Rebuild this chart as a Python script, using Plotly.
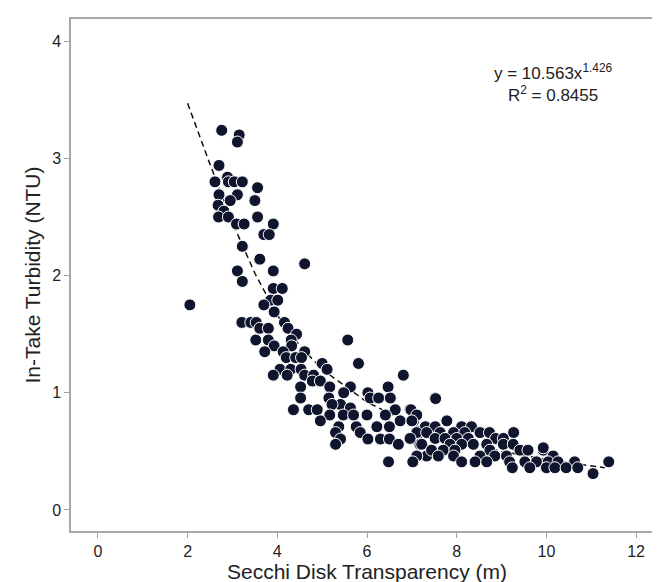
import plotly.graph_objects as go

# Observed points: Secchi disk transparency (m) and in-take turbidity (NTU)
secchi = [
    2.76, 3.15, 3.11, 2.70, 2.61, 2.89, 2.91, 3.04, 3.22, 3.56, 2.70, 3.11, 2.95, 3.50,
    2.68, 2.81, 2.69, 2.91, 3.56, 3.09, 3.26, 3.91, 3.70, 3.82, 3.22, 3.61, 4.61, 3.11,
    3.91, 3.22, 3.91, 4.11, 3.85, 4.01, 3.70, 2.05,
    3.93, 3.21, 3.41, 3.53, 3.61, 3.80, 4.16, 4.24, 4.43, 3.52, 3.80, 4.31, 5.57, 3.93,
    4.32, 3.72, 4.13, 4.61, 4.20, 4.41, 4.54, 5.81, 4.06, 4.30, 4.53, 5.00, 5.11, 3.91,
    4.22, 4.61, 4.81, 6.81, 4.78, 4.96, 4.52, 5.17, 5.63, 6.47, 5.48, 6.02, 4.52, 5.15,
    6.07, 6.26, 6.52, 7.52, 5.41, 5.63, 4.36, 4.70, 4.89, 5.22, 6.63, 6.96, 5.17, 5.47,
    5.70, 6.00, 6.41, 6.74, 7.04, 4.96, 5.37, 5.76, 6.22, 6.50, 5.30, 5.85, 6.02, 6.30,
    6.50, 6.70, 7.11, 7.33, 7.18, 5.41, 5.30, 6.48, 7.04, 7.44, 7.33,
    7.53, 6.98, 7.11, 7.00, 7.78, 7.30, 7.52, 8.11, 8.33, 7.11, 7.33, 7.63, 7.93, 8.18,
    8.52, 8.73, 9.27, 6.96, 7.52, 7.74, 8.00, 8.26, 8.87, 9.04, 7.22, 7.85, 8.11, 8.37,
    8.67, 9.04, 9.26, 7.44, 7.70, 7.96, 8.74, 9.41, 9.59, 9.93, 7.11, 7.59, 7.93, 8.52,
    8.85, 9.11, 10.15, 7.02, 8.11, 8.41, 8.67, 9.18, 9.52, 9.78, 10.04, 10.26, 10.63,
    9.24, 9.63, 10.00, 10.19, 10.44, 10.70, 11.39, 11.04, 9.93,
]
turbidity = [
    3.24, 3.20, 3.14, 2.94, 2.80, 2.84, 2.80, 2.80, 2.80, 2.75, 2.69, 2.69, 2.64, 2.64,
    2.60, 2.55, 2.50, 2.50, 2.50, 2.44, 2.44, 2.44, 2.35, 2.35, 2.25, 2.14, 2.10, 2.04,
    2.04, 1.95, 1.89, 1.89, 1.79, 1.79, 1.75, 1.75,
    1.69, 1.60, 1.60, 1.60, 1.55, 1.55, 1.60, 1.55, 1.50, 1.45, 1.45, 1.45, 1.45, 1.40,
    1.40, 1.35, 1.35, 1.35, 1.30, 1.30, 1.30, 1.25, 1.20, 1.20, 1.20, 1.25, 1.20, 1.15,
    1.15, 1.15, 1.15, 1.15, 1.10, 1.10, 1.05, 1.05, 1.05, 1.05, 1.00, 1.00, 0.955, 0.955,
    0.955, 0.955, 0.955, 0.955, 0.90, 0.87, 0.855, 0.855, 0.855, 0.90, 0.855, 0.855, 0.81, 0.81,
    0.81, 0.81, 0.81, 0.76, 0.76, 0.76, 0.71, 0.71, 0.71, 0.71, 0.66, 0.66, 0.605, 0.605,
    0.605, 0.56, 0.605, 0.66, 0.56, 0.605, 0.56, 0.41, 0.41, 0.50, 0.46,
    0.95, 0.855, 0.81, 0.76, 0.76, 0.71, 0.71, 0.71, 0.71, 0.66, 0.66, 0.66, 0.66, 0.66,
    0.66, 0.66, 0.66, 0.61, 0.61, 0.61, 0.61, 0.61, 0.61, 0.61, 0.56, 0.56, 0.56, 0.56,
    0.56, 0.56, 0.56, 0.51, 0.51, 0.51, 0.51, 0.51, 0.51, 0.51, 0.46, 0.46, 0.46, 0.46,
    0.46, 0.46, 0.46, 0.41, 0.41, 0.41, 0.41, 0.41, 0.41, 0.41, 0.41, 0.41, 0.41,
    0.36, 0.36, 0.36, 0.36, 0.36, 0.36, 0.41, 0.31, 0.53,
]

# Dashed trend line
trend_x = [2.0, 2.5, 3.0, 3.5, 4.0, 4.5, 5.0, 6.0, 7.0, 8.0, 9.0, 10.0, 11.3]
trend_y = [3.47, 2.95, 2.45, 2.02, 1.66, 1.40, 1.20, 0.92, 0.73, 0.60, 0.50, 0.43, 0.36]

x_ticks = [0, 2, 4, 6, 8, 10, 12]
y_ticks = [0, 1, 2, 3, 4]

FONT = "Liberation Sans, Arial, sans-serif"

fig = go.Figure()
fig.add_trace(go.Scatter(
    x=trend_x, y=trend_y, mode="lines",
    line=dict(color="#111111", width=1.5, dash="6px,4px"),
    hoverinfo="skip", showlegend=False,
))
fig.add_trace(go.Scatter(
    x=secchi, y=turbidity, mode="markers",
    marker=dict(size=12, color="#10152e", line=dict(color="white", width=1)),
    showlegend=False,
))

fig.add_annotation(
    x=0.815, y=0.875, xref="paper", yref="paper", xanchor="center", yanchor="middle",
    text="y = 10.563x<sup>1.426</sup><br>R<sup>2</sup> = 0.8455",
    showarrow=False, align="center",
    font=dict(family=FONT, size=17, color="#222222"),
)

axis_common = dict(
    showgrid=False, zeroline=False, showline=True, mirror=True,
    linecolor="#a8a8a8", linewidth=1.5,
    ticks="outside", ticklen=5, tickwidth=1, tickcolor="#a0a0a0",
    tickfont=dict(family=FONT, size=16, color="#222222"),
)

fig.update_layout(
    width=660, height=582,
    margin=dict(l=63, r=3, t=11, b=59),
    paper_bgcolor="white", plot_bgcolor="white",
    font=dict(family=FONT, color="#222222"),
    xaxis=dict(
        range=[-0.6, 12.6], tickvals=x_ticks,
        title=dict(text="Secchi Disk Transparency (m)", font=dict(family=FONT, size=21), standoff=0),
        **axis_common,
    ),
    yaxis=dict(
        range=[-0.18, 4.19], tickvals=y_ticks,
        title=dict(text="In-Take Turbidity (NTU)", font=dict(family=FONT, size=21), standoff=6),
        **axis_common,
    ),
)

fig.write_html("out.html")
